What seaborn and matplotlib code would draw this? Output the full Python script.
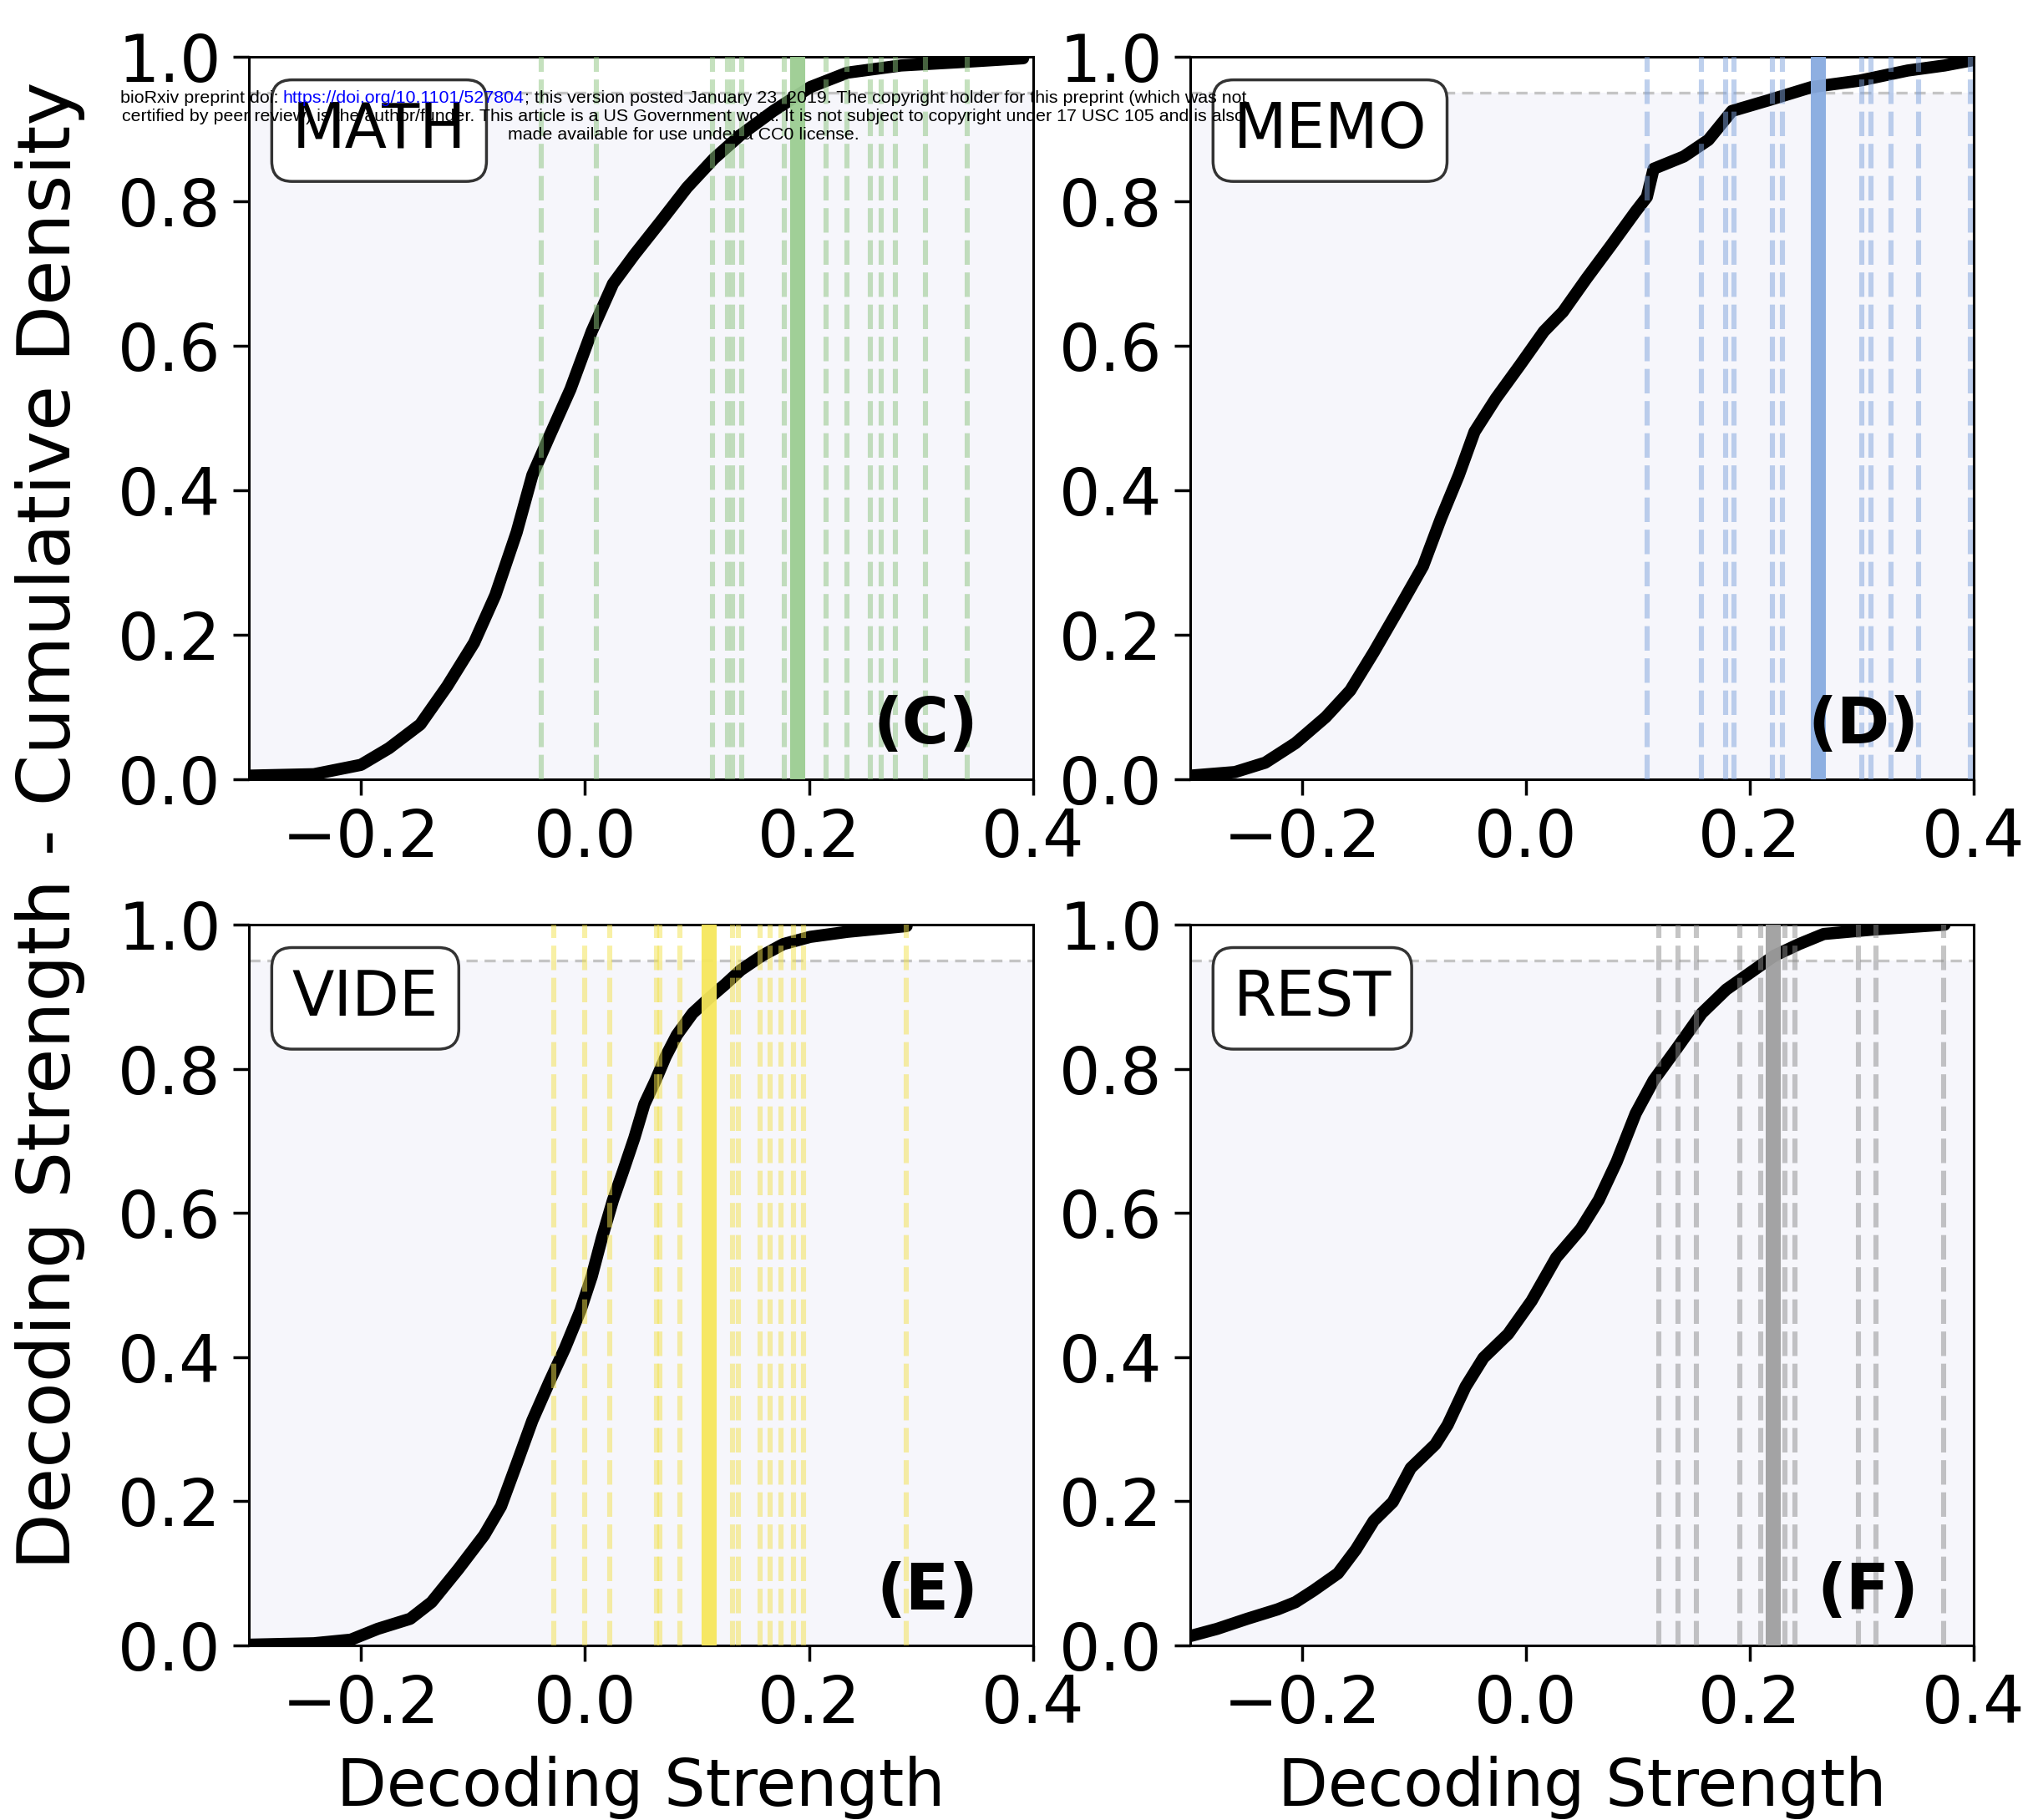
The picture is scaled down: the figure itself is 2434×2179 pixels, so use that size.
import numpy as np
import pandas as pd
import matplotlib
matplotlib.use("Agg")
import matplotlib.pyplot as plt
import seaborn as sns

# ---------------- data ----------------
panel_names = ["MATH", "MEMO", "VIDE", "REST"]
panel_tags = ["(C)", "(D)", "(E)", "(F)"]

math_x = [-0.300, -0.242, -0.200, -0.175, -0.147, -0.123, -0.099, -0.080, -0.061, -0.047,
          -0.032, -0.013, 0.006, 0.025, 0.044, 0.068, 0.091, 0.115, 0.139, 0.168,
          0.201, 0.234, 0.282, 0.339, 0.391]
math_cdf = [0.005, 0.007, 0.020, 0.043, 0.076, 0.129, 0.189, 0.255, 0.342, 0.421,
            0.474, 0.540, 0.620, 0.686, 0.726, 0.773, 0.819, 0.859, 0.892, 0.925,
            0.958, 0.978, 0.988, 0.993, 0.998]

memo_x = [-0.300, -0.260, -0.233, -0.206, -0.179, -0.157, -0.136, -0.114, -0.092, -0.076,
          -0.060, -0.046, -0.027, -0.005, 0.016, 0.033, 0.054, 0.076, 0.098, 0.108,
          0.114, 0.141, 0.163, 0.184, 0.217, 0.255, 0.298, 0.341, 0.374, 0.398]
memo_cdf = [0.005, 0.010, 0.023, 0.050, 0.086, 0.123, 0.176, 0.235, 0.295, 0.361,
            0.421, 0.481, 0.527, 0.574, 0.620, 0.647, 0.693, 0.739, 0.786, 0.806,
            0.845, 0.862, 0.885, 0.925, 0.940, 0.958, 0.967, 0.981, 0.988, 0.995]

vide_x = [-0.300, -0.242, -0.209, -0.185, -0.156, -0.137, -0.113, -0.090, -0.075, -0.061,
          -0.047, -0.032, -0.018, -0.004, 0.006, 0.015, 0.025, 0.034, 0.044, 0.053,
          0.063, 0.072, 0.082, 0.096, 0.110, 0.125, 0.139, 0.158, 0.177, 0.201,
          0.234, 0.287]
vide_cdf = [0.001, 0.003, 0.008, 0.023, 0.037, 0.060, 0.106, 0.153, 0.193, 0.252,
            0.312, 0.365, 0.412, 0.465, 0.512, 0.565, 0.618, 0.658, 0.704, 0.751,
            0.784, 0.817, 0.847, 0.877, 0.897, 0.917, 0.937, 0.957, 0.973, 0.983,
            0.990, 0.998]

rest_x = [-0.300, -0.276, -0.249, -0.222, -0.206, -0.190, -0.168, -0.152, -0.136, -0.119,
          -0.103, -0.081, -0.070, -0.054, -0.038, -0.016, 0.005, 0.027, 0.049, 0.065,
          0.081, 0.098, 0.114, 0.136, 0.157, 0.179, 0.201, 0.222, 0.244, 0.266,
          0.309, 0.374]
rest_cdf = [0.013, 0.023, 0.037, 0.050, 0.060, 0.076, 0.100, 0.133, 0.173, 0.199,
            0.246, 0.279, 0.306, 0.359, 0.399, 0.432, 0.478, 0.538, 0.578, 0.618,
            0.671, 0.738, 0.784, 0.831, 0.877, 0.910, 0.934, 0.957, 0.973, 0.987,
            0.993, 1.000]

math_lines = [-0.039, 0.010, 0.114, 0.127, 0.132, 0.140, 0.178, 0.215, 0.234, 0.255,
              0.264, 0.277, 0.304, 0.341]
memo_lines = [0.108, 0.157, 0.178, 0.186, 0.220, 0.229, 0.300, 0.308, 0.326, 0.351, 0.397]
vide_lines = [-0.028, 0.000, 0.022, 0.064, 0.067, 0.085, 0.132, 0.137, 0.156, 0.165,
              0.175, 0.186, 0.195, 0.287]
rest_lines = [0.119, 0.136, 0.152, 0.191, 0.210, 0.231, 0.240, 0.297, 0.313, 0.373]

math_obs = 0.190
memo_obs = 0.261
vide_obs = 0.111
rest_obs = 0.221

threshold = 0.95

x_ticks = [-0.2, 0.0, 0.2, 0.4]
y_ticks = [0.0, 0.2, 0.4, 0.6, 0.8, 1.0]

curves = {
    "MATH": pd.DataFrame({"x": math_x, "cdf": math_cdf}),
    "MEMO": pd.DataFrame({"x": memo_x, "cdf": memo_cdf}),
    "VIDE": pd.DataFrame({"x": vide_x, "cdf": vide_cdf}),
    "REST": pd.DataFrame({"x": rest_x, "cdf": rest_cdf}),
}
lines = {"MATH": math_lines, "MEMO": memo_lines, "VIDE": vide_lines, "REST": rest_lines}
obs = {"MATH": math_obs, "MEMO": memo_obs, "VIDE": vide_obs, "REST": rest_obs}

# ---------------- style ----------------
sns.set_theme(style="ticks")
plt.rcParams["font.family"] = ["DejaVu Sans"]
for k in ("text.color", "axes.labelcolor", "xtick.color", "ytick.color", "axes.edgecolor"):
    plt.rcParams[k] = "black"

line_colors = {"MATH": "#8cc47f", "MEMO": "#7fa3dc", "VIDE": "#f3e24c", "REST": "#8c8c8c"}
obs_colors = {"MATH": "#9ccd92", "MEMO": "#88abe0", "VIDE": "#f6e75c", "REST": "#9f9f9f"}

W, H = 2434, 2179
fig = plt.figure(figsize=(W / 100, H / 100), dpi=100)
fig.patch.set_facecolor("white")

boxes = {
    "MATH": (298, 68, 939, 865),
    "MEMO": (1425, 68, 938, 865),
    "VIDE": (298, 1107, 939, 863),
    "REST": (1425, 1107, 938, 863),
}

for name, tag in zip(panel_names, panel_tags):
    x0, y0, w, h = boxes[name]
    ax = fig.add_axes([x0 / W, 1 - (y0 + h) / H, w / W, h / H])
    ax.set_facecolor("white")
    ax.axhspan(0, threshold, color="#f6f6fb", zorder=0, lw=0)
    ax.axhline(threshold, color="#c4c4c4", lw=2.4, dashes=(4, 2.5), zorder=1)

    sns.lineplot(data=curves[name], x="x", y="cdf", ax=ax, color="black",
                 lw=10.5, estimator=None, sort=True, zorder=3)

    for v in lines[name]:
        ax.axvline(v, color=line_colors[name], lw=4.4, alpha=0.5,
                   dashes=(4.8, 1.5), zorder=4)
    ax.axvline(obs[name], color=obs_colors[name], lw=13, alpha=0.95, zorder=5)

    ax.set_xlim(-0.3, 0.4)
    ax.set_ylim(0, 1)
    ax.set_xticks(x_ticks)
    ax.set_yticks(y_ticks)
    ax.tick_params(labelsize=56, length=14, width=2.5, pad=10, color="black",
                   labelcolor="black")
    for s in ax.spines.values():
        s.set_visible(True)
        s.set_linewidth(2.2)
        s.set_color("black")
    ax.set_ylabel("")
    if name in ("VIDE", "REST"):
        ax.set_xlabel("Decoding Strength", fontsize=56, labelpad=16, color="black")
    else:
        ax.set_xlabel("")

    ax.text(0.055, 0.94, name, transform=ax.transAxes, ha="left", va="top",
            fontsize=53, zorder=10, color="black",
            bbox=dict(boxstyle="round,pad=0.33", fc="white", ec="#333333", lw=2.5))
    ax.text(0.93, 0.05, tag, transform=ax.transAxes, ha="right", va="baseline",
            fontsize=55, fontweight="bold", zorder=10, color="black")

fig.text(60 / W, 1 - 988 / H, "Decoding Strength - Cumulative Density",
         rotation=90, ha="center", va="center", fontsize=63.5, color="black")

# ---------------- bioRxiv header ----------------
wm_font = dict(family=["Liberation Sans", "DejaVu Sans"], fontsize=15.4)
cx = 818 / W
parts = [("bioRxiv preprint doi: ", "black"),
         ("https://doi.org/10.1101/527804", "blue"),
         ("; this version posted January 23, 2019. The copyright holder for this preprint (which was not", "black")]
y1 = 1 - 123 / H
texts = [fig.text(0, y1, s, color=c, ha="left", va="baseline", zorder=20, **wm_font)
         for s, c in parts]
renderer = fig.canvas.get_renderer()
widths = [t.get_window_extent(renderer).width for t in texts]
xpos = cx * W - sum(widths) / 2
for t, wdt in zip(texts, widths):
    t.set_x(xpos / W)
    xpos += wdt
fig.text(cx, 1 - 145 / H,
         "certified by peer review) is the author/funder. This article is a US Government work. "
         "It is not subject to copyright under 17 USC 105 and is also",
         ha="center", va="baseline", zorder=20, color="black", **wm_font)
fig.text(cx, 1 - 167 / H, "made available for use under a CC0 license.",
         ha="center", va="baseline", zorder=20, color="black", **wm_font)

fig.savefig("out.png", dpi=100)
